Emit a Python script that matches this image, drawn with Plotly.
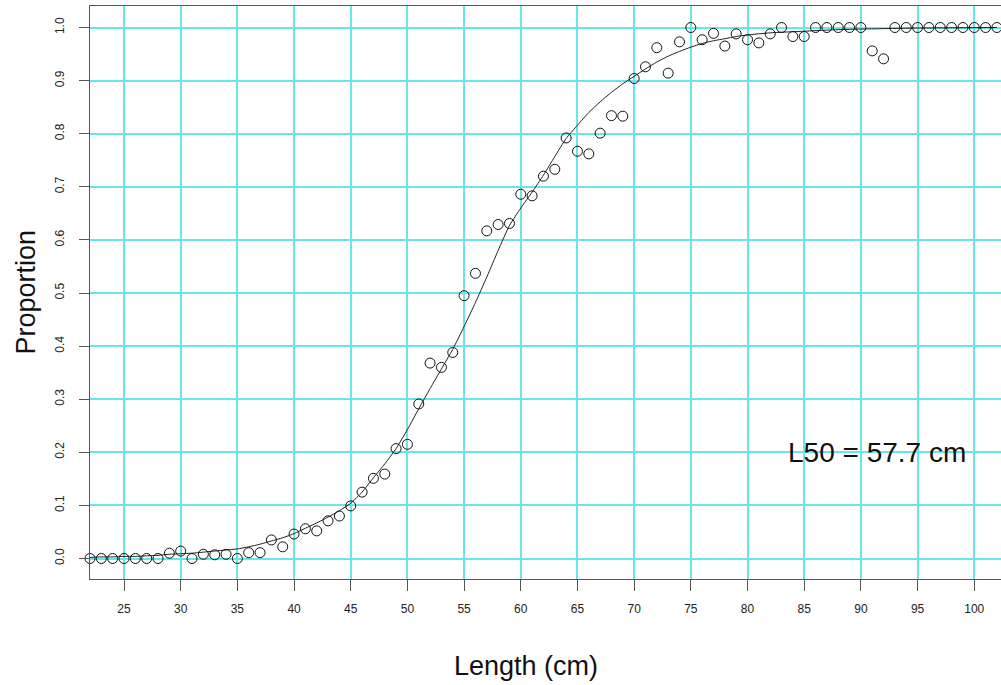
import plotly.graph_objects as go

# ---- data ----
length_cm = list(range(22, 103))
proportion = [
    0.000, 0.000, 0.000, 0.000, 0.000, 0.000, 0.000,          # 22-28
    0.010, 0.014, 0.000, 0.008, 0.007, 0.008, 0.000,          # 29-35
    0.011, 0.011, 0.035, 0.022, 0.046, 0.056, 0.052,          # 36-42
    0.071, 0.080, 0.099, 0.125, 0.151, 0.159, 0.207,          # 43-49
    0.215, 0.291, 0.368, 0.360, 0.388, 0.495, 0.537,          # 50-56
    0.617, 0.629, 0.631, 0.686, 0.683, 0.720, 0.733,          # 57-63
    0.792, 0.767, 0.762, 0.801, 0.834, 0.833, 0.904,          # 64-70
    0.926, 0.962, 0.914, 0.973, 1.000, 0.977, 0.989,          # 71-77
    0.965, 0.988, 0.977, 0.971, 0.988, 1.000, 0.983,          # 78-84
    0.983, 1.000, 1.000, 1.000, 1.000, 1.000, 0.956,          # 85-91
    0.941, 1.000, 1.000, 1.000, 1.000, 1.000, 1.000,          # 92-98
    1.000, 1.000, 1.000, 1.000,                               # 99-102
]

fit_length = [22, 23, 24, 25, 26, 27, 28, 29, 30, 31, 32, 33, 34, 35, 36, 37,
              38, 39, 40, 41, 42, 43, 44, 45, 46, 47, 48, 49, 50, 51, 52, 53,
              54, 55, 56, 57, 58, 59, 60, 61, 62, 63, 64, 65, 66, 67, 68, 69,
              70, 71, 72, 73, 74, 75, 76, 77, 78, 79, 80, 82, 85, 88, 90, 95, 102]
fit_proportion = [0.002, 0.003, 0.003, 0.004, 0.004, 0.005, 0.006, 0.008, 0.009,
                  0.010, 0.012, 0.014, 0.016, 0.018, 0.022, 0.027, 0.033, 0.039,
                  0.047, 0.057, 0.067, 0.078, 0.090, 0.104, 0.125, 0.152, 0.178,
                  0.207, 0.243, 0.282, 0.320, 0.357, 0.394, 0.437, 0.482, 0.530,
                  0.580, 0.627, 0.660, 0.690, 0.722, 0.757, 0.791, 0.816, 0.840,
                  0.860, 0.878, 0.894, 0.908, 0.922, 0.935, 0.946, 0.955, 0.963,
                  0.970, 0.975, 0.979, 0.983, 0.986, 0.990, 0.993, 0.996, 0.997,
                  0.999, 1.000]

x_ticks = [25, 30, 35, 40, 45, 50, 55, 60, 65, 70, 75, 80, 85, 90, 95, 100]
y_ticks = [0.0, 0.1, 0.2, 0.3, 0.4, 0.5, 0.6, 0.7, 0.8, 0.9, 1.0]
y_tick_text = ["0.0", "0.1", "0.2", "0.3", "0.4", "0.5", "0.6", "0.7", "0.8", "0.9", "1.0"]

l50_text = "L50 = 57.7 cm"

FONT = "Liberation Sans, Arial, sans-serif"
GRID = "rgb(105,230,232)"
AXIS = "#555555"

fig = go.Figure()
fig.add_trace(go.Scatter(
    x=fit_length, y=fit_proportion, mode="lines",
    line=dict(color="#222222", width=1, shape="spline", smoothing=0.5),
    hoverinfo="skip", showlegend=False,
))
fig.add_trace(go.Scatter(
    x=length_cm, y=proportion, mode="markers",
    marker=dict(symbol="circle-open", size=10, color="#111111",
                line=dict(width=1, color="#111111")),
    cliponaxis=False, showlegend=False,
))

fig.update_layout(
    width=1001, height=685,
    margin=dict(l=90, r=0, t=6, b=106),
    paper_bgcolor="white", plot_bgcolor="white",
    font=dict(family=FONT, color="#222222"),
    xaxis=dict(
        range=[22, 102.36], tickvals=x_ticks, ticks="outside", ticklen=11,
        tickcolor=AXIS, tickwidth=1, showline=True, linecolor=AXIS, linewidth=1,
        mirror=True, showgrid=True, gridcolor=GRID, gridwidth=1.5, zeroline=False,
        tickfont=dict(size=12, family=FONT, color="#222222"),
        ticklabelstandoff=8,
    ),
    yaxis=dict(
        range=[-0.0386, 1.0405], tickvals=y_ticks, ticktext=y_tick_text,
        tickangle=-90, ticks="outside", ticklen=10, tickcolor=AXIS, tickwidth=1,
        showline=True, linecolor=AXIS, linewidth=1, mirror=False,
        showgrid=True, gridcolor=GRID, gridwidth=1.5, zeroline=False,
        tickfont=dict(size=12, family=FONT, color="#222222"),
        ticklabelstandoff=10,
    ),
    annotations=[
        dict(text="Length (cm)", xref="paper", yref="paper",
             x=(526 - 90) / 911, y=0, yshift=-(666 - 579), xanchor="center",
             yanchor="middle", showarrow=False,
             font=dict(size=27, family=FONT, color="#111111")),
        dict(text="Proportion", xref="paper", yref="paper",
             x=0, xshift=-(90 - 25), y=0.5, xanchor="center", yanchor="middle",
             textangle=-90, showarrow=False,
             font=dict(size=27, family=FONT, color="#111111")),
        dict(text=l50_text, xref="x", yref="y", x=91.4, y=0.2,
             xanchor="center", yanchor="middle", showarrow=False,
             font=dict(size=28, family=FONT, color="#111111")),
    ],
)

fig.write_html("out.html")
